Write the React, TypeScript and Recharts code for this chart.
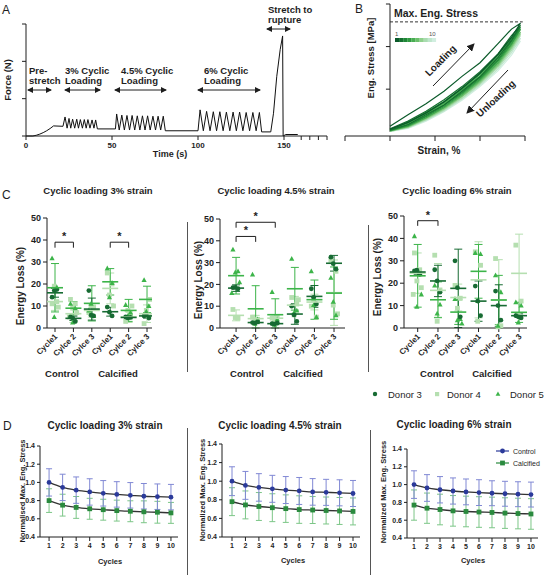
import React from "react";
import {
  LineChart, Line, ScatterChart, Scatter, XAxis, YAxis, ErrorBar, ReferenceLine,
} from "recharts";

const FONT = "'Liberation Sans', Arial, Helvetica, sans-serif";
const INK = "#1e1e1e";

// A - force trace over the whole protocol (pre-stretch, 3 cyclic blocks, rupture)
const forceTime = [
  0, 4, 6, 8, 10, 12, 14, 16, 21.5,
  22.7, 23.9, 25, 26, 27.1, 28.3, 29.5, 30.5, 31.6, 32.8, 33.9, 35, 36, 37.2, 38.4, 39.5, 40.5, 41.5, 52,
  52.7, 54.2, 55.7, 57.2, 58.7, 60.2, 61.7, 63.2, 64.7, 66.2, 67.7, 69.2, 70.7, 72.2, 73.8, 75.3, 76.8, 78.3, 79.8, 81, 100,
  101.2, 103.1, 105, 107, 108.9, 110.8, 112.7, 114.6, 116.5, 118.5, 120.4, 122.3, 124.2, 126.1, 128, 130, 131.9, 133.8, 135.7, 137, 142.3,
  143.9, 145.8, 147.8, 149.2, 149.5, 151, 158,
];
const forceValue = [
  0, 0, 0.02, 0.05, 0.09, 0.14, 0.2, 0.27, 0.26,
  0.51, 0.21, 0.47, 0.21, 0.45, 0.21, 0.45, 0.21, 0.44, 0.21, 0.44, 0.21, 0.44, 0.21, 0.43, 0.21, 0.43, 0.19, 0.19,
  0.59, 0.16, 0.56, 0.16, 0.55, 0.16, 0.55, 0.16, 0.54, 0.16, 0.54, 0.16, 0.54, 0.16, 0.53, 0.16, 0.53, 0.16, 0.53, 0.14, 0.14,
  0.7, 0.14, 0.66, 0.14, 0.65, 0.14, 0.65, 0.14, 0.64, 0.14, 0.64, 0.14, 0.64, 0.14, 0.63, 0.14, 0.63, 0.14, 0.63, 0.11, 0.11,
  0.61, 1.6, 2.32, 2.68, 0, 0.04, 0.04,
];
const timeTicks = [0, 50, 100, 150, 160, 165, 170, 175];

// B - stress/strain loops, cycles 1..10 (loading up, unloading back down)
const strainGrid = [0, 0.4, 0.8, 1.2, 1.6, 2.0, 2.4, 2.7, 2.9];
const loadStress = [
  [0.13, 0.4, 0.66, 0.95, 1.3, 1.62, 2.07, 2.41, 2.55],
  [0.07, 0.25, 0.48, 0.75, 1.06, 1.41, 1.83, 2.26, 2.5],
  [0.06, 0.22, 0.46, 0.71, 1.03, 1.36, 1.8, 2.2, 2.46],
  [0.05, 0.21, 0.43, 0.7, 1.0, 1.35, 1.76, 2.18, 2.42],
  [0.05, 0.2, 0.42, 0.67, 0.98, 1.31, 1.74, 2.13, 2.4],
  [0.04, 0.18, 0.41, 0.65, 0.95, 1.29, 1.7, 2.1, 2.34],
  [0.04, 0.17, 0.39, 0.63, 0.93, 1.26, 1.66, 2.06, 2.3],
  [0.03, 0.16, 0.37, 0.61, 0.9, 1.23, 1.62, 2.02, 2.26],
  [0.03, 0.15, 0.35, 0.59, 0.87, 1.2, 1.58, 1.97, 2.2],
  [0.02, 0.14, 0.34, 0.57, 0.85, 1.17, 1.54, 1.92, 2.13],
];
const unloadStress = [
  [0.06, 0.22, 0.44, 0.7, 1.02, 1.38, 1.82, 2.22, 2.55],
  [0.04, 0.17, 0.4, 0.63, 0.95, 1.29, 1.74, 2.15, 2.5],
  [0.03, 0.16, 0.37, 0.62, 0.92, 1.27, 1.69, 2.12, 2.46],
  [0.03, 0.14, 0.35, 0.59, 0.9, 1.24, 1.66, 2.07, 2.42],
  [0.02, 0.13, 0.33, 0.57, 0.87, 1.21, 1.62, 2.04, 2.4],
  [0.02, 0.12, 0.32, 0.55, 0.84, 1.18, 1.58, 2.0, 2.34],
  [0.02, 0.11, 0.3, 0.53, 0.82, 1.15, 1.55, 1.96, 2.3],
  [0.01, 0.1, 0.28, 0.51, 0.79, 1.12, 1.51, 1.91, 2.26],
  [0.01, 0.09, 0.27, 0.49, 0.77, 1.09, 1.47, 1.86, 2.2],
  [0.01, 0.08, 0.25, 0.47, 0.74, 1.06, 1.43, 1.8, 2.13],
];
const cycleShades = [
  "#0b5a2a", "#15702f", "#1f8636", "#2f9a40", "#48ad52",
  "#6bbf6b", "#8fd08c", "#a9dcb0", "#bfe6cc", "#d1eee0",
];
const maxStress = 2.58;

// C - energy loss; rows are donor 3, donor 4, donor 5, columns the six groups
const cycleNames = ["Cycle1", "Cylce 2", "Cylce 3", "Cycle1", "Cylce 2", "Cylce 3"];
const donorNames = ["Donor 3", "Donor 4", "Donor 5"];
const donorColors = ["#176b33", "#b5dfb0", "#3cb449"];

const loss3Mean = [
  [16, 4.4, 8.6, 7.4, 4.8, 5.5],
  [12, 6.5, 8, 18, 5, 6.5],
  [18.3, 9, 11.2, 21, 8, 13],
];
const loss3Sd = [
  [2, 1, 5, 2, 0.6, 1],
  [4, 4, 3, 7, 2.5, 4],
  [11, 3, 8, 6, 5, 6],
];
const loss3Pts = [
  [[14, 17.5, 17], [5, 3, 4.5], [17, 5.5, 5.8], [9.5, 5.5, 7.2], [5, 4.8, 4.6], [5.5, 4.5, 6]],
  [[11, 12, 19, 9.5], [13, 11, 9, 7, 5, 3], [7, 9.5, 10], [25, 20, 15, 10], [3, 6, 8, 10], [2, 5, 8, 13]],
  [[31.7, 18.5, 5], [11, 9, 2.5], [8, 5.5, 11], [27.1, 20.5, 14], [10.5, 7, 5.5], [21.8, 10, 7.5]],
];
const loss3Sig = [[1, 2, 39, 36.5], [4, 5, 39, 36.5]];

const loss45Mean = [
  [18.3, 2.5, 2, 6.4, 14.5, 29.7],
  [5.8, 4.3, 4.5, 10.5, 11.9, 16.2],
  [24, 8.8, 6.1, 18, 13, 16],
];
const loss45Sd = [
  [1.5, 0.5, 0.5, 4.7, 5, 3.6],
  [2.5, 1.5, 1.5, 4, 3.6, 15],
  [8.4, 10.6, 7.3, 9.8, 9, 12],
];
const loss45Pts = [
  [[18.5, 18, 18.6], [2.5, 2.8, 2.2], [2, 2.3, 1.8], [10, 3, 6], [18, 11, 14], [32.5, 27, 29.5]],
  [[8.5, 4.5, 4.8], [5, 4, 3.5], [4.5, 5, 4], [14, 11, 6, 13], [10, 5, 13], [31, 26, 10.5, 6.5]],
  [[36, 26, 25.5, 21, 16], [24.5, 4, 2], [16.5, 4, 1.5], [31.8, 8, 7], [26, 5, 10.5], [23, 5.8, 12]],
];
const loss45Sig = [[1, 2, 42, 39.5], [1, 3, 48.5, 46]];

const loss6Mean = [
  [25, 21, 17.7, 12, 10, 5.5],
  [24.5, 16.8, 13.6, 21.5, 12.5, 24.4],
  [23.3, 12.6, 7.1, 25.3, 12.5, 7],
];
const loss6Sd = [
  [1, 7, 17.5, 9, 9.3, 0.8],
  [9, 12, 6, 17, 18, 17.5],
  [14, 8, 5.5, 12, 11, 4.5],
];
const loss6Pts = [
  [[25.5, 24, 25.8], [26, 16, 21], [30, 5, 18], [18.7, 5.5, 12], [16.5, 3.5, 10], [5.5, 4.5, 5]],
  [[33.5, 26, 21, 18, 15], [32.5, 17, 3], [19, 13.3, 8.8], [34, 28, 3], [31, 1, 0.5], [37, 12, 6]],
  [[41, 24, 9.5, 15], [19, 10.5, 6.5], [13, 4, 3.5, 2], [33.5, 33, 12], [23.5, 16, 1], [11.5, 10, 2.5]],
];
const loss6Sig = [[1, 2, 47.9, 45.6]];

// D - normalised max. stress per cycle
const cycleTicks = [1, 2, 3, 4, 5, 6, 7, 8, 9, 10];
const ctrl3 = [1.0, 0.945, 0.915, 0.895, 0.88, 0.868, 0.858, 0.848, 0.843, 0.838];
const ctrl3Sd = [0.15, 0.145, 0.145, 0.145, 0.14, 0.14, 0.14, 0.14, 0.14, 0.14];
const calc3 = [0.8, 0.75, 0.725, 0.71, 0.7, 0.69, 0.683, 0.677, 0.672, 0.665];
const calc3Sd = [0.13, 0.12, 0.12, 0.115, 0.115, 0.115, 0.115, 0.12, 0.12, 0.115];
const ctrl45 = [1.0, 0.955, 0.933, 0.918, 0.905, 0.895, 0.885, 0.88, 0.875, 0.868];
const ctrl45Sd = [0.155, 0.15, 0.148, 0.145, 0.145, 0.145, 0.143, 0.14, 0.14, 0.14];
const calc45 = [0.78, 0.745, 0.728, 0.715, 0.705, 0.695, 0.69, 0.685, 0.68, 0.675];
const calc45Sd = [0.15, 0.15, 0.15, 0.15, 0.148, 0.148, 0.145, 0.145, 0.145, 0.145];
const ctrl6 = [1.0, 0.962, 0.942, 0.928, 0.918, 0.91, 0.903, 0.897, 0.892, 0.888];
const ctrl6Sd = [0.155, 0.15, 0.148, 0.147, 0.145, 0.145, 0.14, 0.14, 0.14, 0.14];
const calc6 = [0.77, 0.735, 0.72, 0.705, 0.698, 0.692, 0.687, 0.68, 0.675, 0.67];
const calc6Sd = [0.17, 0.17, 0.172, 0.172, 0.172, 0.172, 0.172, 0.172, 0.172, 0.172];

const CTRL_BLUE = "#2b3a9a";
const CALC_GREEN = "#2a8a3e";

// ---------- A ----------
const forceRows = forceTime.map((t, i) => ({ t, f: forceValue[i] }));

function ForcePanel() {
  return (
    <div style={{ position: "absolute", left: 0, top: 0 }}>
      <LineChart width={340} height={170} data={forceRows} margin={{ top: 24, right: 13, bottom: 12, left: 6 }}>
        <XAxis
          dataKey="t" type="number" domain={[0, 175]} ticks={timeTicks} interval={0}
          tickFormatter={(v: number) => (v % 50 === 0 ? String(v) : "")}
          height={22} tickSize={4} stroke={INK}
          tick={{ fontSize: 8, fontWeight: 700, fill: INK }}
        />
        <YAxis type="number" domain={[0, 3]} ticks={[0, 1, 2, 3]} interval={0} width={20} tickSize={4} stroke={INK} tickFormatter={() => ""} />
        <Line dataKey="f" type="linear" stroke="#111" strokeWidth={1} dot={false} isAnimationActive={false} />
      </LineChart>
    </div>
  );
}

// ---------- B ----------
function loopRows(c: number) {
  const up = strainGrid.map((x, i) => ({ x, y: loadStress[c][i] }));
  const down = strainGrid.map((x, i) => ({ x, y: unloadStress[c][i] })).reverse();
  return up.concat(down);
}

function StressPanel() {
  const order = cycleShades.map((_, i) => cycleShades.length - 1 - i);
  return (
    <div style={{ position: "absolute", left: 330, top: 0 }}>
      <LineChart width={205} height={170} margin={{ top: 4, right: 10, bottom: 14, left: 15 }}>
        <XAxis type="number" dataKey="x" domain={[-1, 3]} ticks={[-1, 0, 1, 2, 3]} interval={0} tickFormatter={() => ""} height={20} tickSize={5} stroke={INK} />
        <YAxis type="number" dataKey="y" domain={[-0.1, 3]} hide width={0} />
        <ReferenceLine segment={[{ x: 0, y: 0 }, { x: 0, y: 3 }]} stroke={INK} />
        {[1, 2, 3].map((v) => (
          <ReferenceLine key={v} segment={[{ x: -0.09, y: v }, { x: 0, y: v }]} stroke={INK} />
        ))}
        <ReferenceLine segment={[{ x: 0, y: maxStress }, { x: 2.95, y: maxStress }]} stroke="#333" strokeDasharray="3 2" />
        {order.map((c) => (
          <Line key={c} data={loopRows(c)} dataKey="y" type="linear" stroke={cycleShades[c]} strokeWidth={1.2} dot={false} isAnimationActive={false} />
        ))}
      </LineChart>
    </div>
  );
}

// ---------- C ----------
const jitter = [-0.16, 0.1, -0.04, 0.18, -0.22, 0.04];
const drawOrder = [1, 2, 0];

function pointRows(pts: number[][]) {
  return pts.flatMap((vals, c) => vals.map((v, i) => ({ x: c + 1 + jitter[i % jitter.length], y: v })));
}
function meanRows(mean: number[], sd: number[]) {
  return mean.map((m, c) => ({ x: c + 1, y: m, err: [Math.min(sd[c], m), sd[c]] }));
}

function donorMarker(d: number) {
  const color = donorColors[d];
  return (p: any) => {
    const { cx, cy } = p;
    if (d === 0) return <circle cx={cx} cy={cy} r={2.4} fill={color} />;
    if (d === 1) return <rect x={cx - 2.4} y={cy - 2.4} width={4.8} height={4.8} fill={color} />;
    return <path d={`M${cx},${cy - 2.8} L${cx + 2.6},${cy + 2} L${cx - 2.6},${cy + 2} Z`} fill={color} />;
  };
}
function meanMark(color: string) {
  return (p: any) => <line x1={p.cx - 8} x2={p.cx + 8} y1={p.cy} y2={p.cy} stroke={color} strokeWidth={1.6} />;
}

const CycleTick = (props: any) => {
  const { x, y, payload } = props;
  const tx = x + 3;
  const ty = y + 3;
  return (
    <text x={tx} y={ty} transform={`rotate(-45 ${tx} ${ty})`} textAnchor="end" fontSize={8} fontWeight={700} fill={INK}>
      {cycleNames[payload.value - 1]}
    </text>
  );
};

function bracket(sig: number[], k: string) {
  const [a, b, top, leg] = sig;
  const common = { stroke: INK, strokeWidth: 1, ifOverflow: "visible" as const };
  return [
    <ReferenceLine key={k + "l"} segment={[{ x: a, y: leg }, { x: a, y: top }]} {...common} />,
    <ReferenceLine
      key={k + "t"} segment={[{ x: a, y: top }, { x: b, y: top }]} {...common}
      label={{ value: "*", position: "top", offset: 2, fill: INK, fontSize: 11, fontWeight: 700 }}
    />,
    <ReferenceLine key={k + "r"} segment={[{ x: b, y: top }, { x: b, y: leg }]} {...common} />,
  ];
}

function LossChart({ left, width, margin, xDomain, mean, sd, pts, sig }: any) {
  return (
    <div style={{ position: "absolute", left, top: 200 }}>
      <ScatterChart width={width} height={172} margin={margin}>
        <XAxis type="number" dataKey="x" domain={xDomain} ticks={[1, 2, 3, 4, 5, 6]} interval={0} tick={<CycleTick />} height={44} tickSize={4} stroke={INK} allowDataOverflow />
        <YAxis type="number" dataKey="y" domain={[0, 50]} ticks={[0, 10, 20, 30, 40, 50]} interval={0} width={22} tickSize={4} stroke={INK} tick={{ fontSize: 9, fontWeight: 700, fill: INK }} />
        {drawOrder.map((d) => (
          <Scatter key={"p" + d} data={pointRows(pts[d])} shape={donorMarker(d)} isAnimationActive={false} />
        ))}
        {drawOrder.map((d) => (
          <Scatter key={"m" + d} data={meanRows(mean[d], sd[d])} shape={meanMark(donorColors[d])} isAnimationActive={false}>
            <ErrorBar dataKey="err" direction="y" width={4} stroke={donorColors[d]} strokeWidth={1} />
          </Scatter>
        ))}
        {sig.flatMap((s: number[], i: number) => bracket(s, "b" + i))}
      </ScatterChart>
    </div>
  );
}

// ---------- D ----------
const circleDot = (p: any) => <circle key={p.index} cx={p.cx} cy={p.cy} r={2.4} fill={CTRL_BLUE} />;
const squareDot = (p: any) => <rect key={p.index} x={p.cx - 2.4} y={p.cy - 2.4} width={4.8} height={4.8} fill={CALC_GREEN} />;

function DecayChart({ left, width, margin, xDomain, ctrl, ctrlSd, calc, calcSd }: any) {
  const ctrlRows = cycleTicks.map((c, i) => ({ x: c, y: ctrl[i], sd: ctrlSd[i] }));
  const calcRows = cycleTicks.map((c, i) => ({ x: c, y: calc[i], sd: calcSd[i] }));
  return (
    <div style={{ position: "absolute", left, top: 430 }}>
      <LineChart width={width} height={149} margin={margin}>
        <XAxis type="number" dataKey="x" domain={xDomain} ticks={cycleTicks} interval={0} height={20} tickSize={4} stroke={INK} tick={{ fontSize: 7, fontWeight: 700, fill: INK }} />
        <YAxis
          type="number" domain={[0.4, 1.4]} ticks={[0.4, 0.6, 0.8, 1.0, 1.2, 1.4]} interval={0}
          width={22} tickSize={3} stroke={INK} tickFormatter={(v: number) => v.toFixed(1)}
          tick={{ fontSize: 7, fontWeight: 700, fill: INK }}
        />
        <Line data={calcRows} dataKey="y" type="monotone" stroke="#333" strokeWidth={1.3} dot={squareDot} isAnimationActive={false}>
          <ErrorBar dataKey="sd" direction="y" width={3} stroke="#7cc687" strokeWidth={1} />
        </Line>
        <Line data={ctrlRows} dataKey="y" type="monotone" stroke="#333" strokeWidth={1.3} dot={circleDot} isAnimationActive={false}>
          <ErrorBar dataKey="sd" direction="y" width={3} stroke="#8088d4" strokeWidth={1} />
        </Line>
      </LineChart>
    </div>
  );
}

// ---------- text, arrows and separators ----------
function Bold({ x, y, size = 9.5, anchor = "start", rotate, children }: any) {
  const transform = rotate ? `rotate(${rotate} ${x} ${y})` : undefined;
  return (
    <text x={x} y={y} fontSize={size} fontWeight={700} textAnchor={anchor} transform={transform} fill={INK}>
      {children}
    </text>
  );
}

function Overlay() {
  const arrow = { stroke: INK, strokeWidth: 1, markerStart: "url(#ah)", markerEnd: "url(#ah)" };
  return (
    <svg width={546} height={579} style={{ position: "absolute", left: 0, top: 0, pointerEvents: "none" }}>
      <defs>
        <marker id="ah" markerWidth={6} markerHeight={6} refX={5} refY={3} orient="auto-start-reverse" markerUnits="userSpaceOnUse">
          <path d="M0,0 L6,3 L0,6 Z" fill={INK} />
        </marker>
        <marker id="ah2" markerWidth={8} markerHeight={8} refX={7} refY={4} orient="auto" markerUnits="userSpaceOnUse">
          <path d="M0,0 L8,4 L0,8 Z" fill={INK} />
        </marker>
      </defs>

      {/* A */}
      <text x={2} y={14} fontSize={12} fill={INK}>A</text>
      <Bold x={10.5} y={80} anchor="middle" rotate={-90}>Force (N)</Bold>
      <Bold x={170} y={157} size={9} anchor="middle">Time (s)</Bold>
      <Bold x={29} y={74}>Pre-</Bold>
      <Bold x={29} y={84}>stretch</Bold>
      <Bold x={65} y={74}>3% Cyclic</Bold>
      <Bold x={65} y={84}>Loading</Bold>
      <Bold x={121} y={74}>4.5% Cyclic</Bold>
      <Bold x={121} y={84}>Loading</Bold>
      <Bold x={204} y={74}>6% Cyclic</Bold>
      <Bold x={204} y={84}>Loading</Bold>
      <Bold x={268} y={13}>Stretch to</Bold>
      <Bold x={268} y={23}>rupture</Bold>
      <line x1={28} y1={90} x2={51} y2={90} {...arrow} />
      <line x1={65} y1={90} x2={100} y2={90} {...arrow} />
      <line x1={115} y1={90} x2={166} y2={90} {...arrow} />
      <line x1={198} y1={90} x2={260} y2={90} {...arrow} />
      <line x1={267} y1={29} x2={290} y2={29} {...arrow} />

      {/* B */}
      <text x={355} y={13} fontSize={12} fill={INK}>B</text>
      <Bold x={394} y={17} size={10.5}>Max. Eng. Stress</Bold>
      <text x={395} y={36} fontSize={6} fill="#555">1</text>
      <text x={429} y={36} fontSize={6} fill="#555">10</text>
      {cycleShades.map((c, i) => (
        <rect key={c} x={395 + i * 4.1} y={38} width={4.2} height={4} fill={c} />
      ))}
      <Bold x={373.5} y={58} anchor="middle" rotate={-90}>Eng. Stress [MPa]</Bold>
      <Bold x={439} y={154} size={10} anchor="middle">Strain, %</Bold>
      <line x1={433} y1={86} x2={474} y2={44} stroke={INK} strokeWidth={1} markerEnd="url(#ah2)" />
      <Bold x={443} y={63} size={10} anchor="middle" rotate={-45}>Loading</Bold>
      <line x1={508} y1={70} x2={467} y2={113} stroke={INK} strokeWidth={1} markerEnd="url(#ah2)" />
      <Bold x={498} y={101} size={10} anchor="middle" rotate={-43}>Unloading</Bold>

      {/* C */}
      <text x={2} y={199} fontSize={12} fill={INK}>C</text>
      <Bold x={98} y={194} anchor="middle">Cyclic loading 3% strain</Bold>
      <Bold x={276} y={194} anchor="middle">Cyclic loading 4.5% strain</Bold>
      <Bold x={457} y={194} anchor="middle">Cyclic loading 6% strain</Bold>
      <Bold x={24} y={286} size={10} anchor="middle" rotate={-90}>Energy Loss (%)</Bold>
      <Bold x={202} y={280} size={10} anchor="middle" rotate={-90}>Energy Loss (%)</Bold>
      <Bold x={381} y={277} size={10} anchor="middle" rotate={-90}>Energy Loss (%)</Bold>
      <Bold x={62} y={377} anchor="middle">Control</Bold>
      <Bold x={118} y={377} anchor="middle">Calcified</Bold>
      <Bold x={247} y={377} anchor="middle">Control</Bold>
      <Bold x={303} y={377} anchor="middle">Calcified</Bold>
      <Bold x={437} y={377} anchor="middle">Control</Bold>
      <Bold x={492} y={377} anchor="middle">Calcified</Bold>
      <line x1={187.5} y1={222} x2={187.5} y2={372} stroke="#555" />
      <line x1={368.5} y1={225} x2={368.5} y2={372} stroke="#555" />
      <circle cx={375} cy={394} r={2.2} fill={donorColors[0]} />
      <rect x={435} y={392} width={4.2} height={4.2} fill={donorColors[1]} />
      <path d="M498,391.4 L500.4,395.8 L495.6,395.8 Z" fill={donorColors[2]} />
      {donorNames.map((n, i) => (
        <text key={n} x={[388, 447, 510][i]} y={397.5} fontSize={9.5} fill={INK}>{n}</text>
      ))}

      {/* D */}
      <text x={3} y={430} fontSize={12} fill={INK}>D</text>
      <Bold x={105} y={429} size={10} anchor="middle">Cyclic loading 3% strain</Bold>
      <Bold x={280} y={429} size={10} anchor="middle">Cyclic loading 4.5% strain</Bold>
      <Bold x={454} y={428} size={10} anchor="middle">Cyclic loading 6% strain</Bold>
      <Bold x={24.5} y={491} size={7.5} anchor="middle" rotate={-90}>Normalised Max. Eng. Stress</Bold>
      <Bold x={204.5} y={490} size={7.5} anchor="middle" rotate={-90}>Normalized Max. Eng. Stress</Bold>
      <Bold x={385.5} y={492} size={7.5} anchor="middle" rotate={-90}>Normalized Max. Eng. Stress</Bold>
      <Bold x={110} y={564} size={7.5} anchor="middle">Cycles</Bold>
      <Bold x={293} y={563} size={7.5} anchor="middle">Cycles</Bold>
      <Bold x={473} y={563} size={7.5} anchor="middle">Cycles</Bold>
      <line x1={187.5} y1={428} x2={187.5} y2={575} stroke="#555" />
      <line x1={370.5} y1={430} x2={370.5} y2={575} stroke="#555" />
      <line x1={496} y1={451} x2={509} y2={451} stroke={CTRL_BLUE} strokeWidth={1.2} />
      <circle cx={502.5} cy={451} r={2.4} fill={CTRL_BLUE} />
      <text x={513} y={453.5} fontSize={7} fill={INK}>Control</text>
      <line x1={496} y1={463} x2={509} y2={463} stroke={CALC_GREEN} strokeWidth={1.2} />
      <rect x={500.1} y={460.6} width={4.8} height={4.8} fill={CALC_GREEN} />
      <text x={513} y={465.5} fontSize={7} fill={INK}>Calcified</text>
    </svg>
  );
}

export default function App() {
  return (
    <div style={{ position: "absolute", left: 0, top: 0, width: 546, height: 579, background: "#fff", fontFamily: FONT, overflow: "hidden" }}>
      <ForcePanel />
      <StressPanel />
      <LossChart left={0} width={187} margin={{ top: 18, right: 35, bottom: 0, left: 25 }} xDomain={[0.565, 6.27]} mean={loss3Mean} sd={loss3Sd} pts={loss3Pts} sig={loss3Sig} />
      <LossChart left={187} width={181} margin={{ top: 19, right: 23, bottom: 0, left: 11 }} xDomain={[0.18, 6.56]} mean={loss45Mean} sd={loss45Sd} pts={loss45Pts} sig={loss45Sig} />
      <LossChart left={368} width={178} margin={{ top: 16, right: 19, bottom: 0, left: 14 }} xDomain={[0.325, 6.39]} mean={loss6Mean} sd={loss6Sd} pts={loss6Pts} sig={loss6Sig} />
      <DecayChart left={0} width={187} margin={{ top: 16, right: 9, bottom: 22, left: 18 }} xDomain={[0.33, 10.52]} ctrl={ctrl3} ctrlSd={ctrl3Sd} calc={calc3} calcSd={calc3Sd} />
      <DecayChart left={187} width={183} margin={{ top: 14, right: 10, bottom: 22, left: 13 }} xDomain={[0.256, 10.52]} ctrl={ctrl45} ctrlSd={ctrl45Sd} calc={calc45} calcSd={calc45Sd} />
      <DecayChart left={370} width={176} margin={{ top: 19, right: 8, bottom: 21, left: 15 }} xDomain={[0.46, 10.54]} ctrl={ctrl6} ctrlSd={ctrl6Sd} calc={calc6} calcSd={calc6Sd} />
      <Overlay />
    </div>
  );
}
